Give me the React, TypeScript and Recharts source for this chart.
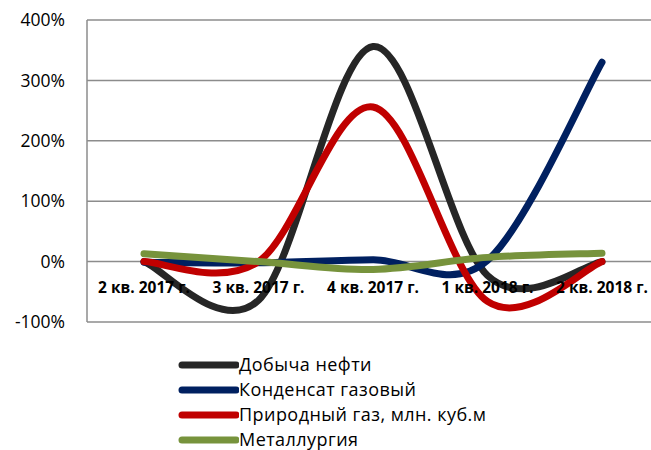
import React from 'react';
import { LineChart, Line, XAxis, YAxis, CartesianGrid, Legend } from 'recharts';

const categories = ['2 кв. 2017 г.', '3 кв. 2017 г.', '4 кв. 2017 г.', '1 кв. 2018 г.', '2 кв. 2018 г.'];
const oilProduction = [0, -64, 356, -23, 0];
const gasCondensate = [-1, -2, 3, 2, 330];
const naturalGas = [0, 0, 256, -66, 0];
const metallurgy = [13, 0, -13, 7, 14];
const yTicks = [-100, 0, 100, 200, 300, 400];

const seriesNames = ['Добыча нефти', 'Конденсат газовый', 'Природный газ, млн. куб.м', 'Металлургия'];
const seriesColors = ['#262626', '#002060', '#C00000', '#77933C'];
const seriesKeys = ['oil', 'cond', 'gas', 'metal'];

const data = categories.map((c, i) => ({
  name: c,
  oil: oilProduction[i],
  cond: gasCondensate[i],
  gas: naturalGas[i],
  metal: metallurgy[i],
}));

const FONT = '"Open Sans", sans-serif';

// Excel-like smoothed line (Catmull-Rom / cardinal with tension 0)
const smoothCurve: any = (context: any) => {
  let pts: number[][] = [];
  return {
    areaStart() {},
    areaEnd() {},
    lineStart() {
      pts = [];
    },
    point(x: number, y: number) {
      pts.push([+x, +y]);
    },
    lineEnd() {
      if (!pts.length) return;
      context.moveTo(pts[0][0], pts[0][1]);
      for (let i = 0; i < pts.length - 1; i++) {
        const p0 = pts[i - 1] || pts[i];
        const p1 = pts[i];
        const p2 = pts[i + 1];
        const p3 = pts[i + 2] || pts[i + 1];
        const c1x = p1[0] + (p2[0] - p0[0]) / 6;
        const c1y = p1[1] + (p2[1] - p0[1]) / 6;
        const c2x = p2[0] - (p3[0] - p1[0]) / 6;
        const c2y = p2[1] - (p3[1] - p1[1]) / 6;
        context.bezierCurveTo(c1x, c1y, c2x, c2y, p2[0], p2[1]);
      }
    },
  };
};

const CategoryTick = (props: any) => {
  const { x, y, payload } = props;
  return (
    <text x={x} y={y - 29} textAnchor="middle" fontFamily={FONT} fontWeight={700} fontSize={15.5} fill="#000">
      {payload.value}
    </text>
  );
};

const LegendContent = () => (
  <div style={{ fontFamily: FONT, fontSize: 18, letterSpacing: 0.45, color: '#000' }}>
    {seriesNames.map((n, i) => (
      <div key={n} style={{ height: 25, display: 'flex', alignItems: 'center' }}>
        <svg width={62} height={12} style={{ display: 'block' }}>
          <line x1={5} y1={6} x2={59} y2={6} stroke={seriesColors[i]} strokeWidth={7} strokeLinecap="round" />
        </svg>
        <span style={{ lineHeight: '25px' }}>{n}</span>
      </div>
    ))}
  </div>
);

export default function App() {
  return (
    <div style={{ position: 'fixed', left: 0, top: 0, width: 651, height: 450, overflow: 'hidden', background: '#fff' }}>
      <LineChart width={651} height={450} data={data} margin={{ top: 20, right: 0, left: 0, bottom: 127 }}>
        <CartesianGrid vertical={false} stroke="#8c8c8c" strokeWidth={1.5} />
        <XAxis
          dataKey="name"
          height={1}
          padding={{ left: 57, right: 49 }}
          axisLine={false}
          tickLine={false}
          tickSize={0}
          tickMargin={0}
          interval={0}
          tick={(p: any) => <CategoryTick {...p} />}
        />
        <YAxis
          width={87}
          domain={[-100, 400]}
          ticks={yTicks}
          interval={0}
          tickFormatter={(v: number) => `${v}%`}
          tickLine={false}
          tickSize={0}
          tickMargin={22}
          axisLine={{ stroke: '#8c8c8c', strokeWidth: 1.5 }}
          tick={{ fontFamily: FONT, fontSize: 17.5, fill: '#000' }}
        />
        {seriesKeys.map((k, i) => (
          <Line
            key={k}
            dataKey={k}
            name={seriesNames[i]}
            type={smoothCurve}
            stroke={seriesColors[i]}
            strokeWidth={7}
            strokeLinecap="round"
            dot={false}
            activeDot={false}
            isAnimationActive={false}
          />
        ))}
        <Legend
          content={<LegendContent />}
          wrapperStyle={{ position: 'absolute', left: 177, top: 352, width: 420, height: 0 }}
        />
      </LineChart>
    </div>
  );
}
